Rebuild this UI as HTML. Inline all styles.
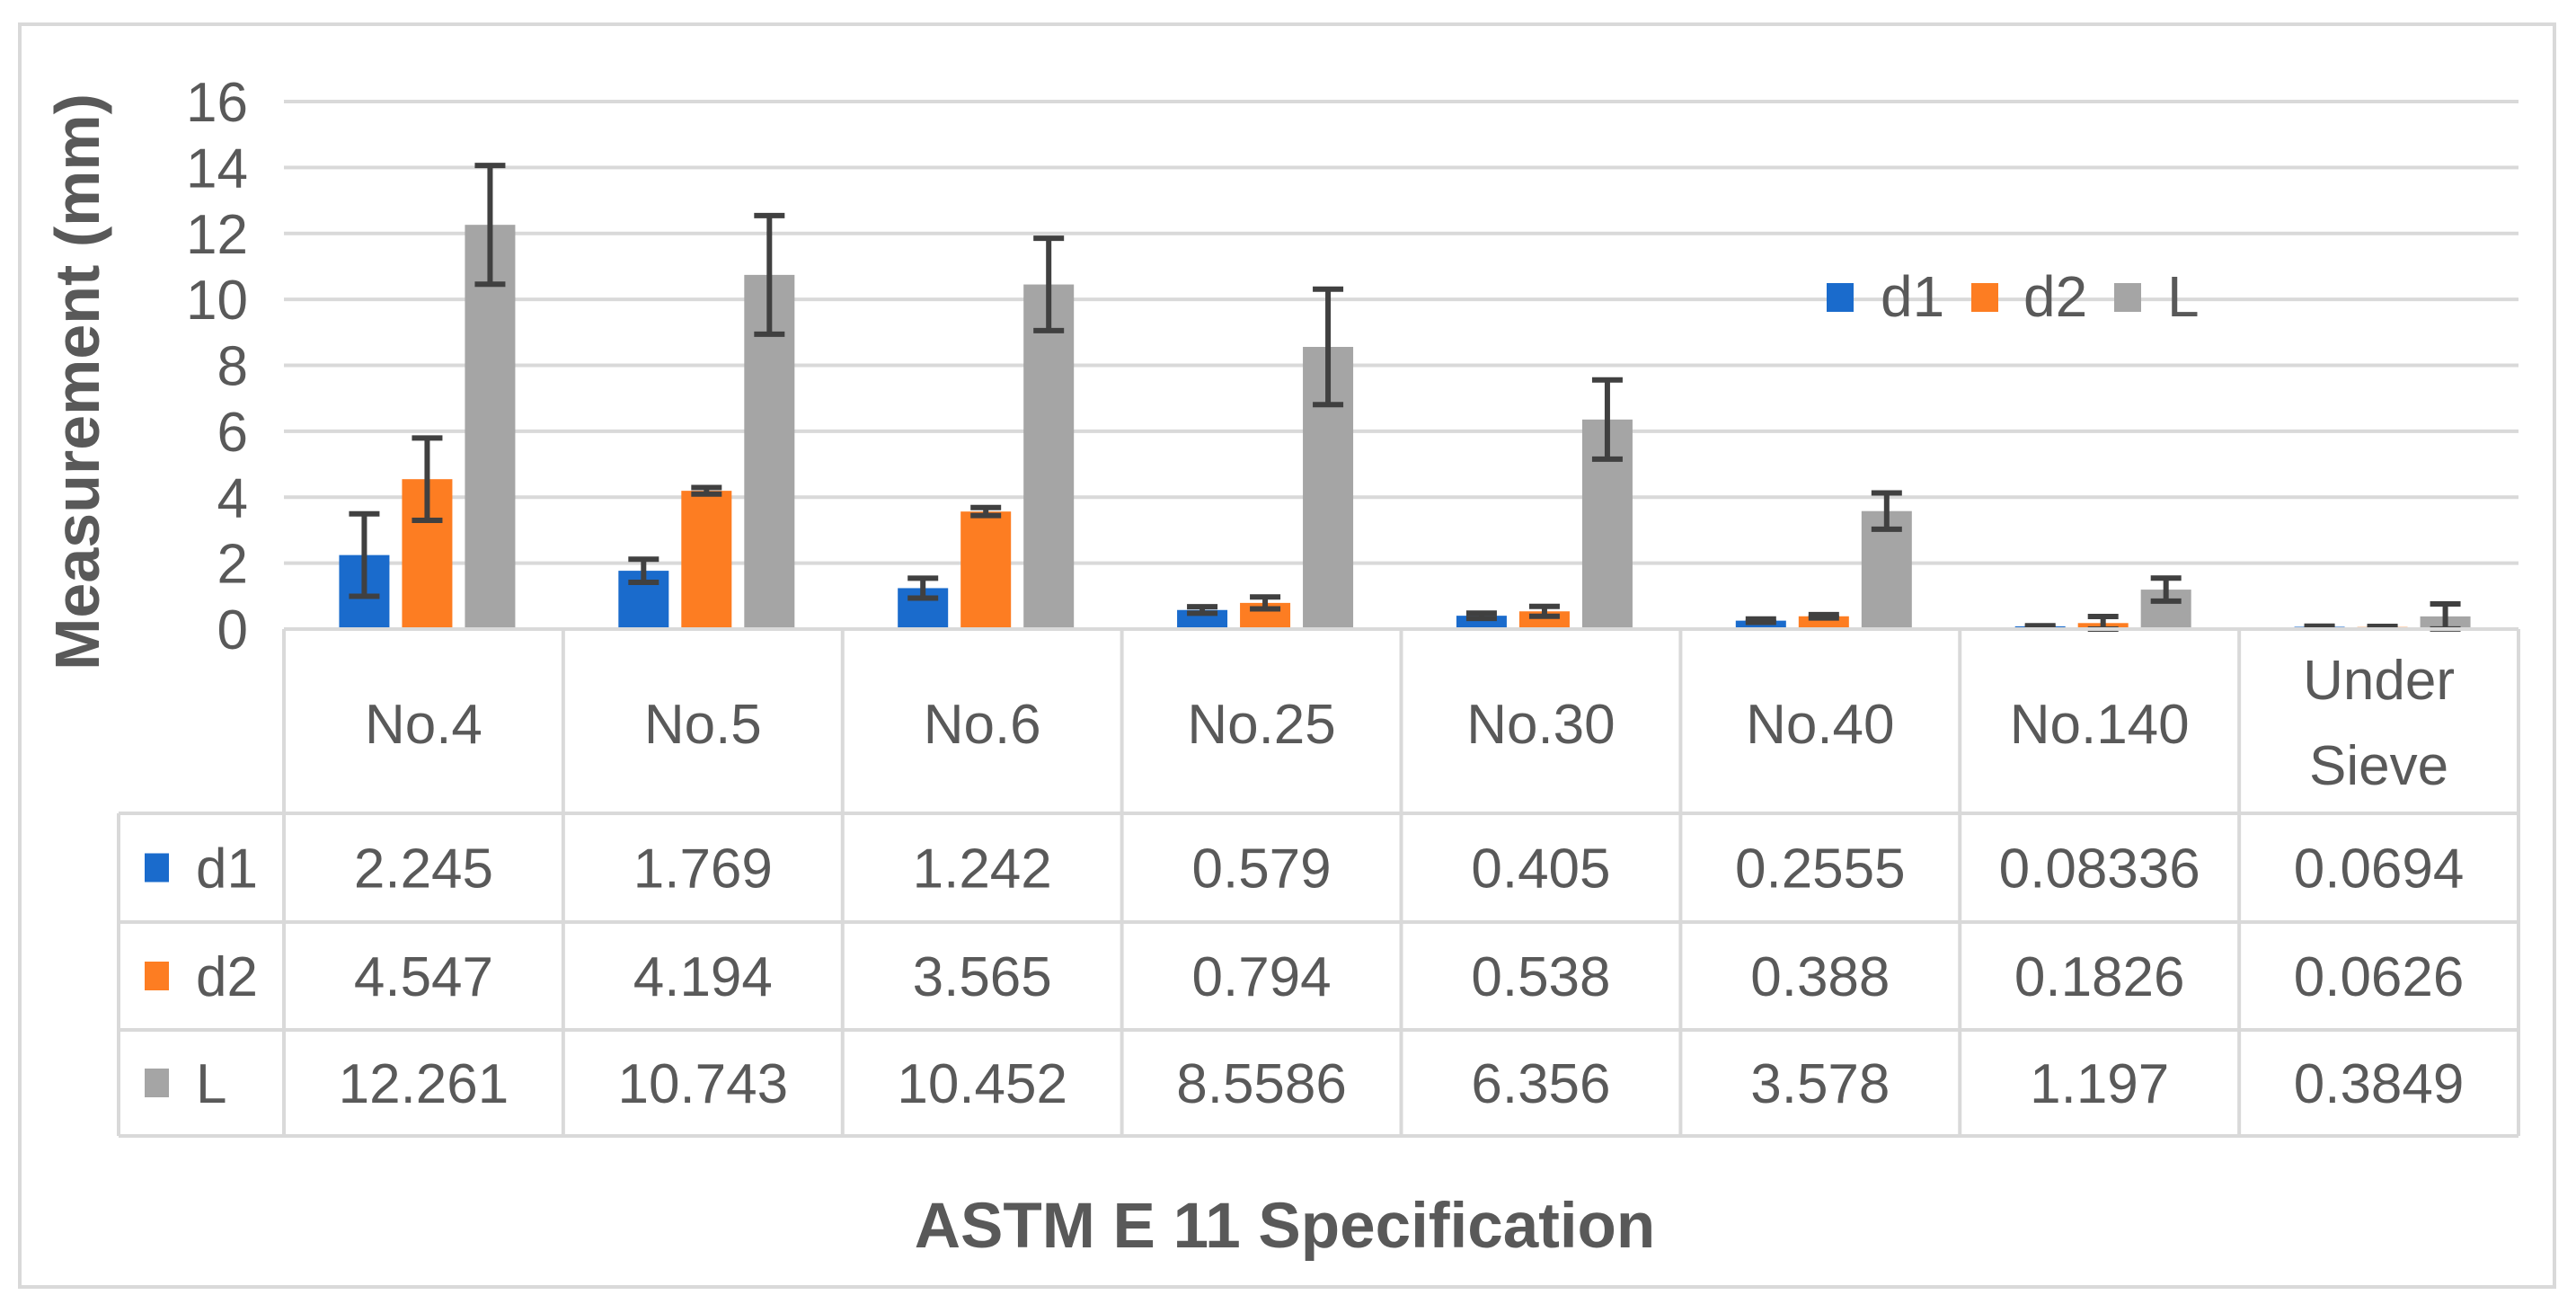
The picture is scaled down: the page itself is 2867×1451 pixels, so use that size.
<!DOCTYPE html>
<html><head><meta charset="utf-8"><style>
html,body{margin:0;padding:0;background:#fff;}
svg{display:block;font-family:"Liberation Sans",sans-serif;}
</style></head><body>
<svg id="chart" width="2867" height="1451" viewBox="0 0 2867 1451" xmlns="http://www.w3.org/2000/svg">
<rect x="22" y="27" width="2821" height="1405" fill="#fff" stroke="#d9d9d9" stroke-width="4"/>
<g id="grid"></g><g id="bars"></g><g id="errs"></g><g id="table"></g><g id="yticks"></g>
<text transform="translate(110,425) rotate(-90)" text-anchor="middle" font-size="70" font-weight="bold" fill="#595959">Measurement (mm)</text>
<text x="1430" y="1388" text-anchor="middle" font-size="71" font-weight="bold" fill="#595959">ASTM E 11 Specification</text>
<g>
<rect x="2033" y="315" width="30" height="32" fill="#1a6bcc"/>
<text x="2093" y="352" font-size="64" fill="#595959">d1</text>
<rect x="2194" y="315" width="30" height="32" fill="#fd7d22"/>
<text x="2252" y="352" font-size="64" fill="#595959">d2</text>
<rect x="2353" y="315" width="30" height="32" fill="#a5a5a5"/>
<text x="2412" y="352" font-size="64" fill="#595959">L</text>
</g>
</svg>
<script>
const categories = [["No.4"],["No.5"],["No.6"],["No.25"],["No.30"],["No.40"],["No.140"],["Under","Sieve"]];
const seriesNames = ["d1","d2","L"];
const d1 = [2.245,1.769,1.242,0.579,0.405,0.2555,0.08336,0.0694];
const d2 = [4.547,4.194,3.565,0.794,0.538,0.388,0.1826,0.0626];
const L = [12.261,10.743,10.452,8.5586,6.356,3.578,1.197,0.3849];
const d1Labels = ["2.245","1.769","1.242","0.579","0.405","0.2555","0.08336","0.0694"];
const d2Labels = ["4.547","4.194","3.565","0.794","0.538","0.388","0.1826","0.0626"];
const LLabels = ["12.261","10.743","10.452","8.5586","6.356","3.578","1.197","0.3849"];
const d1Err = [1.25,0.35,0.3,0.1,0.08,0.05,0.02,0.02];
const d2Err = [1.25,0.1,0.12,0.18,0.15,0.05,0.2,0.02];
const LErr = [1.8,1.8,1.4,1.75,1.2,0.55,0.35,0.38];
const yTicks = [0,2,4,6,8,10,12,14,16];

const NS="http://www.w3.org/2000/svg";
const colors=["#1a6bcc","#fd7d22","#a5a5a5"];
const X0=316,X1=2803,Y0=700,Y1=113,YMAX=16;
const FS=62;
const colW=(X1-X0)/categories.length;
function y(v){return Y0-(v/YMAX)*(Y0-Y1);}
function xCol(i){return X0+i*colW;}
function mk(tag,attrs,parent){const e=document.createElementNS(NS,tag);for(const k in attrs)e.setAttribute(k,attrs[k]);parent.appendChild(e);return e;}
const grid=document.getElementById('grid'),yt=document.getElementById('yticks');
yTicks.forEach(t=>{
  if(t>0){const l=mk('line',{x1:X0,x2:X1,y1:y(t),y2:y(t),stroke:'#d9d9d9','stroke-width':4},grid);
  
  }
  const tx=mk('text',{x:276,y:y(t)+22,'text-anchor':'end','font-size':FS,fill:'#595959'},yt);
  tx.textContent=t;
  
  
});
const bars=document.getElementById('bars'),errs=document.getElementById('errs');
const data=[d1,d2,L],errsD=[d1Err,d2Err,LErr];
const bw=56,pitch=70;
categories.forEach((c,i)=>{
  const start=xCol(i)+(colW-(2*pitch+bw))/2+4;
  data.forEach((s,j)=>{
    const bx=start+j*pitch;
    const r=mk('rect',{x:bx,y:y(s[i]),width:bw,height:Y0-y(s[i]),fill:colors[j]},bars);
    
    
    const cx=bx+bw/2,e=errsD[j][i];
    const hi=y(s[i]+e),lo=y(Math.max(0,s[i]-e));
    const g=mk('g',{stroke:'#404040','stroke-width':6},errs);
    
    
    mk('line',{x1:cx,x2:cx,y1:hi,y2:lo},g);
    mk('line',{x1:cx-17,x2:cx+17,y1:hi,y2:hi},g);
    mk('line',{x1:cx-17,x2:cx+17,y1:lo,y2:lo},g);
  });
});
const tb=document.getElementById('table');
const rows=[700,905,1026,1146,1264];
const LX=132;
const st={stroke:'#d9d9d9','stroke-width':4};
function line(x1,y1,x2,y2){const l=mk('line',Object.assign({x1,y1,x2,y2},st),tb);}
line(X0,rows[0],X1,rows[0]);
for(let r=1;r<rows.length;r++) line(LX,rows[r],X1,rows[r]);
for(let i=0;i<=categories.length;i++) line(xCol(i),rows[0],xCol(i),rows[4]);
line(LX,rows[1],LX,rows[4]);
categories.forEach((c,i)=>{
  const cx=xCol(i)+colW/2;
  c.forEach((ln,k)=>{
    const yy=c.length===1?827:(778+k*95);
    const t=mk('text',{x:cx,y:yy,'text-anchor':'middle','font-size':FS,fill:'#595959'},tb);
    t.textContent=ln;
    
    
  });
});
const labels=[d1Labels,d2Labels,LLabels];
labels.forEach((arr,j)=>{
  const cy=(rows[j+1]+rows[j+2])/2;
  const sw=mk('rect',{x:161,y:cy-16,width:27,height:32,fill:colors[j]},tb);
  
  
  const nm=mk('text',{x:218,y:cy+22,'font-size':FS,fill:'#595959'},tb);
  nm.textContent=seriesNames[j];
  
  
  arr.forEach((v,i)=>{
    const t=mk('text',{x:xCol(i)+colW/2,y:cy+22,'text-anchor':'middle','font-size':FS,fill:'#595959'},tb);
    t.textContent=v;
    
    
  });
});
</script>
</body></html>
